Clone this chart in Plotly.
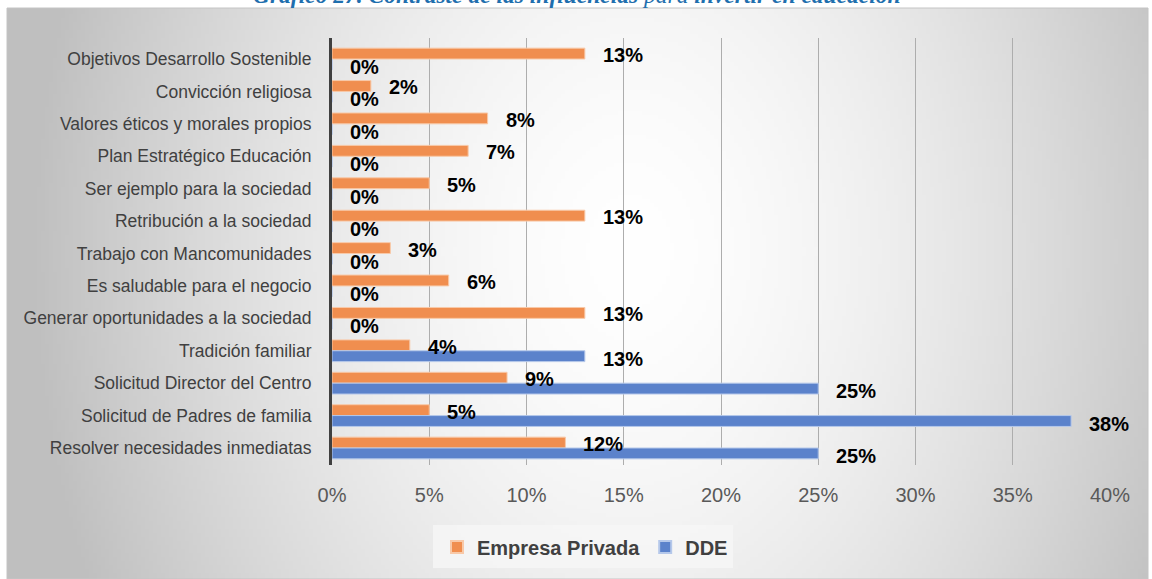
import base64, struct, zlib
import numpy as np
import plotly.graph_objects as go

# ---------------- data ----------------
categories = [
    "Objetivos Desarrollo Sostenible",
    "Convicción religiosa",
    "Valores éticos y morales propios",
    "Plan Estratégico Educación",
    "Ser ejemplo para la sociedad",
    "Retribución a la sociedad",
    "Trabajo con Mancomunidades",
    "Es saludable para el negocio",
    "Generar oportunidades a la sociedad",
    "Tradición familiar",
    "Solicitud Director del Centro",
    "Solicitud de Padres de familia",
    "Resolver necesidades inmediatas",
]
empresa_privada = [13, 2, 8, 7, 5, 13, 3, 6, 13, 4, 9, 5, 12]
dde = [0, 0, 0, 0, 0, 0, 0, 0, 0, 13, 25, 38, 25]
series_names = ["Empresa Privada", "DDE"]
tick_values = [0, 5, 10, 15, 20, 25, 30, 35, 40]
tick_labels = ["0%", "5%", "10%", "15%", "20%", "25%", "30%", "35%", "40%"]
title_text = ("<i><b>Gráfico 27. Contraste de las influencias</b> para "
              "<b>invertir en educación</b></i>")

# ---------------- layout geometry (pixels) ----------------
W, H = 1152, 579
L, R, T, B = 332, 42, 38, 114
PW, PH = W - L - R, H - T - B


def px_to_paper_x(px):
    return (px - L) / PW


def px_to_paper_y(py):
    return (H - B - py) / PH


# ---------------- background gradient image ----------------
def gradient_png(w, h, cx, cy, ax, ay):
    ys, xs = np.mgrid[0:h, 0:w].astype(float)
    r = np.sqrt(((xs - cx) / ax) ** 2 + ((ys - cy) / ay) ** 2)
    r = np.clip(r, 0, 1)
    g = (255 - 64 * r ** 1.6).astype(np.uint8)
    raw = b"".join(b"\x00" + g[i].tobytes() for i in range(h))

    def chunk(tag, data):
        c = struct.pack(">I", len(data)) + tag + data
        return c + struct.pack(">I", zlib.crc32(tag + data) & 0xFFFFFFFF)

    png = b"\x89PNG\r\n\x1a\n"
    png += chunk(b"IHDR", struct.pack(">IIBBBBB", w, h, 8, 0, 0, 0, 0))
    png += chunk(b"IDAT", zlib.compress(raw, 9))
    png += chunk(b"IEND", b"")
    return "data:image/png;base64," + base64.b64encode(png).decode()


box_x0, box_y0, box_x1, box_y1 = 7, 8, 1148, 579
sc = 4
gw, gh = (box_x1 - box_x0) // sc, (box_y1 - box_y0) // sc
bg_src = gradient_png(gw, gh, 620 / sc, 240 / sc, 600 / sc, 800 / sc)

orange = "#F08E4F"
blue = "#5B82CB"

fig = go.Figure()
fig.add_trace(go.Bar(
    y=categories, x=empresa_privada, orientation="h", name=f"<b>{series_names[0]}</b>",
    marker=dict(color=orange, line=dict(color="#F8C9A8", width=1)),
    hoverinfo="x+y",
))
fig.add_trace(go.Bar(
    y=categories, x=dde, orientation="h", name=f"<b>{series_names[1]}</b>",
    marker=dict(color=blue, line=dict(color="#B5C8EA", width=1)),
    hoverinfo="x+y",
))

label_font = dict(family="Liberation Sans, Arial, sans-serif", size=20, color="#000000")
annotations = []
for cat, v in zip(categories, empresa_privada):
    annotations.append(dict(x=v, y=cat, xref="x", yref="y", text=f"<b>{v}%</b>",
                            showarrow=False, xanchor="left", yanchor="middle",
                            xshift=16, yshift=4, font=label_font))
for cat, v in zip(categories, dde):
    annotations.append(dict(x=v, y=cat, xref="x", yref="y", text=f"<b>{v}%</b>",
                            showarrow=False, xanchor="left", yanchor="middle",
                            xshift=16, yshift=-8, font=label_font))

# title (cut at top of the picture, as in the reference)
annotations.append(dict(x=px_to_paper_x(577), y=px_to_paper_y(-5), xref="paper", yref="paper",
                        text=title_text, showarrow=False, xanchor="center", yanchor="middle",
                        font=dict(family="Liberation Serif, DejaVu Serif, serif", size=23.5,
                                  color="#1F6FAE")))

fig.update_layout(
    width=W, height=H,
    margin=dict(l=L, r=R, t=T, b=B, pad=0),
    paper_bgcolor="#FFFFFF",
    plot_bgcolor="rgba(0,0,0,0)",
    barmode="group",
    bargap=0.33,
    bargroupgap=0.0,
    showlegend=True,
    legend=dict(orientation="h", x=px_to_paper_x(585), xanchor="center",
                y=px_to_paper_y(547), yanchor="middle",
                bgcolor="rgba(0,0,0,0)",
                font=dict(family="Liberation Sans, Arial, sans-serif", size=20, color="#404040"),
                itemsizing="constant", traceorder="normal"),
    annotations=annotations,
    images=[dict(source=bg_src, xref="paper", yref="paper",
                 x=px_to_paper_x(box_x0), y=px_to_paper_y(box_y0),
                 sizex=(box_x1 - box_x0) / PW, sizey=(box_y1 - box_y0) / PH,
                 xanchor="left", yanchor="top", sizing="stretch", layer="below")],
    shapes=[
        dict(type="rect", xref="paper", yref="paper",
             x0=px_to_paper_x(box_x0), x1=px_to_paper_x(box_x1),
             y0=px_to_paper_y(box_y1), y1=px_to_paper_y(box_y0),
             line=dict(color="#C4C4C4", width=1), fillcolor="rgba(0,0,0,0)", layer="below"),
        dict(type="rect", xref="paper", yref="paper",
             x0=px_to_paper_x(433), x1=px_to_paper_x(733),
             y0=px_to_paper_y(568), y1=px_to_paper_y(525),
             line=dict(width=0), fillcolor="rgba(246,246,246,0.8)", layer="below"),
    ],
    font=dict(family="Liberation Sans, Arial, sans-serif"),
)

fig.update_xaxes(
    range=[0, 40], tickvals=tick_values, ticktext=tick_labels,
    showgrid=True, gridcolor="#ADADAD", gridwidth=1,
    zeroline=False, showline=False, ticks="",
    tickfont=dict(family="Liberation Sans, Arial, sans-serif", size=20, color="#595959"),
    ticklabelstandoff=16,
    fixedrange=True,
)
fig.update_yaxes(
    categoryorder="array", categoryarray=categories, autorange="reversed",
    showgrid=False, zeroline=False,
    showline=True, linecolor="#404040", linewidth=3,
    ticks="", ticklabelstandoff=14,
    tickfont=dict(family="Liberation Sans, Arial, sans-serif", size=17.5, color="#404040"),
    fixedrange=True,
)

fig.write_html("out.html", config={"displayModeBar": False},
               post_script="document.body.style.margin='0';document.body.style.overflow='hidden';")
